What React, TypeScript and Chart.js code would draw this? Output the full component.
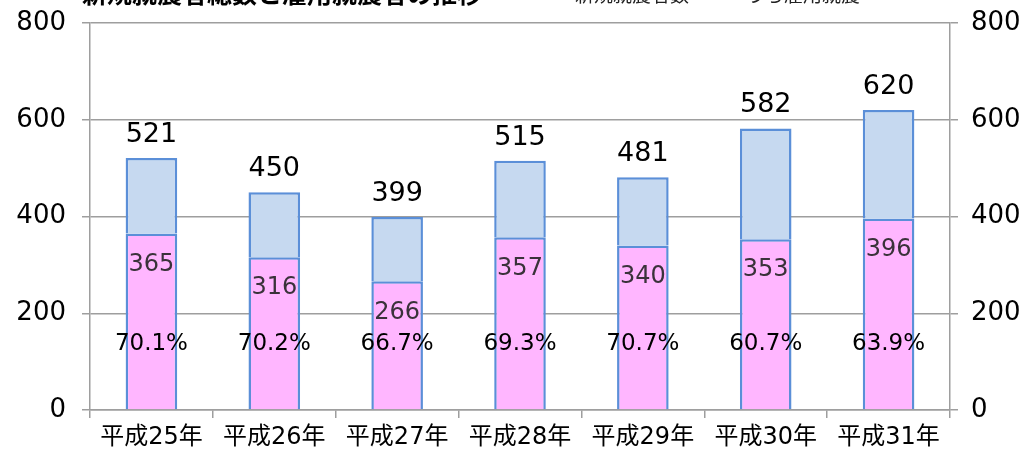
import React, { useEffect, useRef } from "react";
import { Chart, registerables } from "chart.js";

Chart.register(...registerables);

const categories = ["平成25年", "平成26年", "平成27年", "平成28年", "平成29年", "平成30年", "平成31年"];
const totals = [521, 450, 399, 515, 481, 582, 620];
const employed = [365, 316, 266, 357, 340, 353, 396];
const percentLabels = ["70.1%", "70.2%", "66.7%", "69.3%", "70.7%", "60.7%", "63.9%"];
const yTicks = [0, 200, 400, 600, 800];

const titleText = "新規就農者総数と雇用就農者の推移";
const legendText = "新規就農者数　─　うち雇用就農";

const FONT = "'DejaVu Sans', 'Noto Sans CJK JP', sans-serif";
const PINK = "#FFB6FF";
const LIGHTBLUE = "#C6D9F0";
const BORDER = "#5B8FD8";
const GRID = "#9E9E9E";
const PERCENT_LEVEL = 136;

const labelPlugin = {
  id: "barLabels",
  afterDatasetsDraw(chart: any) {
    const ctx = chart.ctx;
    const m0 = chart.getDatasetMeta(0);
    const m1 = chart.getDatasetMeta(1);
    const ys = chart.scales.y;
    ctx.save();
    ctx.textAlign = "center";
    ctx.textBaseline = "middle";
    m0.data.forEach((bar: any, i: number) => {
      ctx.font = `24px ${FONT}`;
      ctx.fillStyle = "#3a323a";
      ctx.fillText(String(employed[i]), bar.x, bar.y + 31);
      ctx.font = `23px ${FONT}`;
      ctx.fillStyle = "#000";
      ctx.fillText(percentLabels[i], bar.x, ys.getPixelForValue(PERCENT_LEVEL));
    });
    m1.data.forEach((bar: any, i: number) => {
      ctx.font = `27px ${FONT}`;
      ctx.fillStyle = "#000";
      ctx.fillText(String(totals[i]), bar.x, bar.y - 23);
    });
    ctx.restore();
  },
};

const headerPlugin = {
  id: "cutHeader",
  afterDraw(chart: any) {
    const ctx = chart.ctx;
    ctx.save();
    ctx.textAlign = "left";
    ctx.textBaseline = "alphabetic";
    ctx.fillStyle = "#000";
    ctx.font = `bold 25px 'Noto Sans CJK JP', sans-serif`;
    ctx.fillText(titleText, 82, 3);
    ctx.fillStyle = "#222";
    ctx.font = `19px 'Noto Sans CJK JP', sans-serif`;
    ctx.fillText(legendText, 575, 2);
    ctx.restore();
  },
};

function fixVertical(width: number) {
  return (scale: any) => {
    scale.width = width;
    scale.paddingTop = 0;
    scale.paddingBottom = 0;
  };
}

export default function App() {
  const ref = useRef<HTMLCanvasElement | null>(null);

  useEffect(() => {
    if (!ref.current) return;
    const chart = new Chart(ref.current, {
      type: "bar",
      data: {
        labels: categories,
        datasets: [
          {
            label: "雇用就農",
            data: employed,
            backgroundColor: PINK,
            borderColor: BORDER,
            borderWidth: 2.5,
            borderSkipped: "bottom",
            categoryPercentage: 1,
            barPercentage: 0.42,
            yAxisID: "y",
          },
          {
            label: "その他",
            data: totals.map((t, i) => t - employed[i]),
            backgroundColor: LIGHTBLUE,
            borderColor: BORDER,
            borderWidth: 2.5,
            borderSkipped: "bottom",
            categoryPercentage: 1,
            barPercentage: 0.42,
            yAxisID: "y",
          },
        ],
      },
      options: {
        responsive: false,
        animation: false,
        layout: { padding: { top: 23, left: 0, right: 0, bottom: 0 } },
        plugins: {
          legend: { display: false },
          title: { display: false },
          tooltip: { enabled: false },
        },
        scales: {
          x: {
            stacked: true,
            grid: {
              display: true,
              drawOnChartArea: false,
              drawTicks: true,
              tickLength: 8,
              color: GRID,
              lineWidth: 1.5,
            },
            border: { display: true, color: GRID, width: 1.5 },
            ticks: {
              color: "#000",
              font: { family: FONT, size: 24 },
              padding: 5,
              maxRotation: 0,
            },
            afterFit(scale: any) {
              scale.height = 43;
              scale.paddingLeft = 0;
              scale.paddingRight = 0;
            },
          },
          y: {
            stacked: true,
            position: "left",
            min: 0,
            max: 800,
            afterBuildTicks(scale: any) {
              scale.ticks = yTicks.map((v) => ({ value: v }));
            },
            grid: {
              color: GRID,
              lineWidth: 1.5,
              drawTicks: true,
              tickLength: 8,
            },
            border: { display: true, color: GRID, width: 1.5 },
            ticks: {
              color: "#000",
              font: { family: FONT, size: 26 },
              padding: 16,
            },
            afterFit: fixVertical(90),
          },
          y2: {
            position: "right",
            min: 0,
            max: 800,
            afterBuildTicks(scale: any) {
              scale.ticks = yTicks.map((v) => ({ value: v }));
            },
            grid: {
              color: GRID,
              lineWidth: 1.5,
              drawOnChartArea: false,
              drawTicks: true,
              tickLength: 8,
            },
            border: { display: true, color: GRID, width: 1.5 },
            ticks: {
              color: "#000",
              font: { family: FONT, size: 26 },
              padding: 13,
            },
            afterFit: fixVertical(84),
          },
        },
      },
      plugins: [labelPlugin, headerPlugin],
    });
    return () => chart.destroy();
  }, []);

  return (
    <div style={{ position: "absolute", left: 0, top: 0, width: 1034, height: 453, background: "#fff" }}>
      <canvas ref={ref} width={1034} height={453} />
    </div>
  );
}
